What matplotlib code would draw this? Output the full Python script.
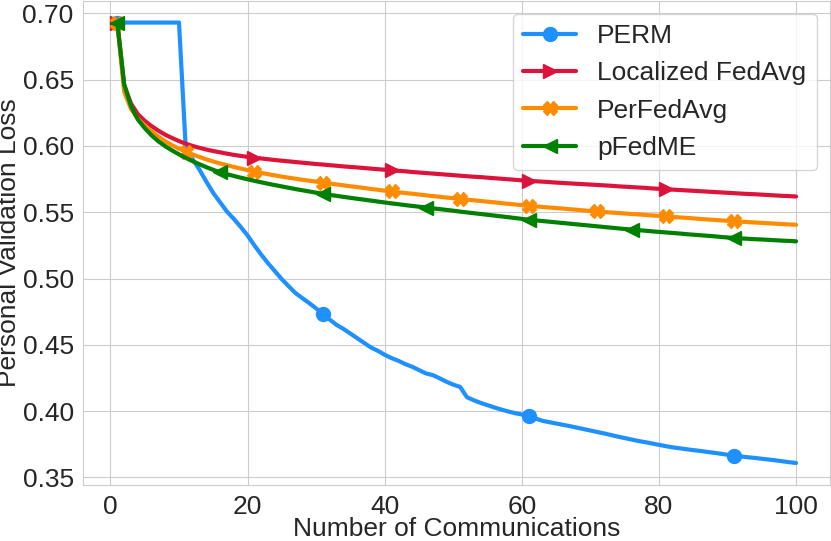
import matplotlib
matplotlib.use("Agg")
import matplotlib.pyplot as plt
import seaborn as sns

rounds = list(range(1, 101))

perm = [0.6931] * 10 + [
    0.5970, 0.5900, 0.5820, 0.5730, 0.5645, 0.5575, 0.5505, 0.5450, 0.5390, 0.5325,
    0.5250, 0.5180, 0.5115, 0.5055, 0.4995, 0.4942, 0.4890, 0.4852, 0.4815, 0.4775,
    0.4735, 0.4690, 0.4650, 0.4620, 0.4585, 0.4550, 0.4515, 0.4480, 0.4455, 0.4425,
    0.4400, 0.4380, 0.4355, 0.4335, 0.4310, 0.4285, 0.4272, 0.4248, 0.4222, 0.4200,
    0.4183, 0.4105, 0.4082, 0.4062, 0.4045, 0.4028, 0.4012, 0.3998, 0.3985, 0.3975,
    0.3965, 0.3945, 0.3927, 0.3917, 0.3907, 0.3897, 0.3887, 0.3876, 0.3865, 0.3854,
    0.3843, 0.3832, 0.3820, 0.3808, 0.3797, 0.3786, 0.3775, 0.3766, 0.3756, 0.3746,
    0.3736, 0.3727, 0.3720, 0.3713, 0.3706, 0.3700, 0.3693, 0.3686, 0.3679, 0.3671,
    0.3664, 0.3658, 0.3652, 0.3647, 0.3641, 0.3635, 0.3629, 0.3622, 0.3615, 0.3609,
]

localized_fedavg = [
    0.6931, 0.6460, 0.6320, 0.6240, 0.6190, 0.6150, 0.6115, 0.6085, 0.6060, 0.6037,
    0.6017, 0.6000, 0.5986, 0.5973, 0.5962, 0.5952, 0.5942, 0.5933, 0.5925, 0.5918,
    0.5912, 0.5906, 0.5900, 0.5894, 0.5889, 0.5884, 0.5879, 0.5874, 0.5869, 0.5864,
    0.5860, 0.5855, 0.5851, 0.5846, 0.5842, 0.5838, 0.5834, 0.5829, 0.5825, 0.5821,
    0.5817, 0.5813, 0.5809, 0.5804, 0.5800, 0.5796, 0.5792, 0.5788, 0.5784, 0.5780,
    0.5776, 0.5772, 0.5768, 0.5765, 0.5761, 0.5757, 0.5753, 0.5749, 0.5745, 0.5741,
    0.5737, 0.5734, 0.5731, 0.5728, 0.5724, 0.5721, 0.5718, 0.5715, 0.5712, 0.5709,
    0.5706, 0.5703, 0.5700, 0.5696, 0.5693, 0.5690, 0.5687, 0.5684, 0.5680, 0.5677,
    0.5674, 0.5671, 0.5668, 0.5665, 0.5662, 0.5659, 0.5656, 0.5653, 0.5650, 0.5647,
    0.5644, 0.5641, 0.5638, 0.5636, 0.5633, 0.5630, 0.5627, 0.5624, 0.5622, 0.5619,
]

perfedavg = [
    0.6931, 0.6410, 0.6280, 0.6205, 0.6155, 0.6110, 0.6070, 0.6035, 0.6005, 0.5980,
    0.5957, 0.5936, 0.5917, 0.5899, 0.5883, 0.5868, 0.5855, 0.5842, 0.5830, 0.5818,
    0.5807, 0.5797, 0.5787, 0.5778, 0.5769, 0.5761, 0.5753, 0.5745, 0.5738, 0.5731,
    0.5724, 0.5717, 0.5710, 0.5703, 0.5696, 0.5690, 0.5683, 0.5676, 0.5670, 0.5663,
    0.5657, 0.5651, 0.5645, 0.5640, 0.5634, 0.5628, 0.5622, 0.5617, 0.5611, 0.5606,
    0.5600, 0.5595, 0.5590, 0.5585, 0.5580, 0.5575, 0.5569, 0.5564, 0.5559, 0.5554,
    0.5549, 0.5545, 0.5540, 0.5536, 0.5532, 0.5528, 0.5523, 0.5519, 0.5514, 0.5510,
    0.5506, 0.5502, 0.5498, 0.5495, 0.5491, 0.5487, 0.5484, 0.5480, 0.5476, 0.5473,
    0.5469, 0.5465, 0.5461, 0.5458, 0.5454, 0.5450, 0.5446, 0.5443, 0.5439, 0.5436,
    0.5432, 0.5429, 0.5426, 0.5423, 0.5420, 0.5417, 0.5414, 0.5411, 0.5408, 0.5406,
]

pfedme = [
    0.6931, 0.6465, 0.6300, 0.6200, 0.6135, 0.6080, 0.6035, 0.5998, 0.5966, 0.5937,
    0.5910, 0.5885, 0.5862, 0.5840, 0.5820, 0.5801, 0.5787, 0.5774, 0.5761, 0.5749,
    0.5737, 0.5726, 0.5715, 0.5705, 0.5695, 0.5685, 0.5675, 0.5666, 0.5657, 0.5648,
    0.5639, 0.5631, 0.5624, 0.5616, 0.5609, 0.5602, 0.5595, 0.5588, 0.5581, 0.5574,
    0.5567, 0.5561, 0.5554, 0.5548, 0.5542, 0.5536, 0.5530, 0.5524, 0.5518, 0.5512,
    0.5505, 0.5499, 0.5493, 0.5487, 0.5481, 0.5475, 0.5469, 0.5463, 0.5457, 0.5450,
    0.5444, 0.5439, 0.5434, 0.5429, 0.5424, 0.5419, 0.5414, 0.5409, 0.5404, 0.5399,
    0.5394, 0.5389, 0.5384, 0.5379, 0.5374, 0.5369, 0.5365, 0.5361, 0.5356, 0.5352,
    0.5348, 0.5344, 0.5340, 0.5335, 0.5331, 0.5327, 0.5323, 0.5319, 0.5314, 0.5310,
    0.5306, 0.5303, 0.5300, 0.5297, 0.5295, 0.5292, 0.5289, 0.5286, 0.5284, 0.5281,
]

sns.set_style("whitegrid")
plt.rcParams["font.family"] = ["Liberation Sans", "DejaVu Sans"]

fig = plt.figure(figsize=(8.31, 5.41), dpi=100)
ax = fig.add_subplot(111)
fig.subplots_adjust(left=0.1003, right=0.9988, bottom=0.1035, top=0.999)

ax.plot(rounds, perm, color="dodgerblue", lw=3, marker="o", ms=10, markevery=30, label="PERM")
ax.plot(rounds, localized_fedavg, color="crimson", lw=3, marker=">", ms=10, markevery=20,
        label="Localized FedAvg")
ax.plot(rounds, perfedavg, color="darkorange", lw=3, marker="X", ms=10, markevery=10,
        label="PerFedAvg")
ax.plot(rounds, pfedme, color="green", lw=3, marker="<", ms=10, markevery=15, label="pFedME")

ax.set_xlabel("Number of Communications", fontsize=19, labelpad=-1)
ax.set_ylabel("Personal Validation Loss", fontsize=19, labelpad=1)
ax.tick_params(labelsize=19)
ax.legend(loc="upper right", fontsize=19, frameon=True)

fig.savefig("out.png", dpi=100)
